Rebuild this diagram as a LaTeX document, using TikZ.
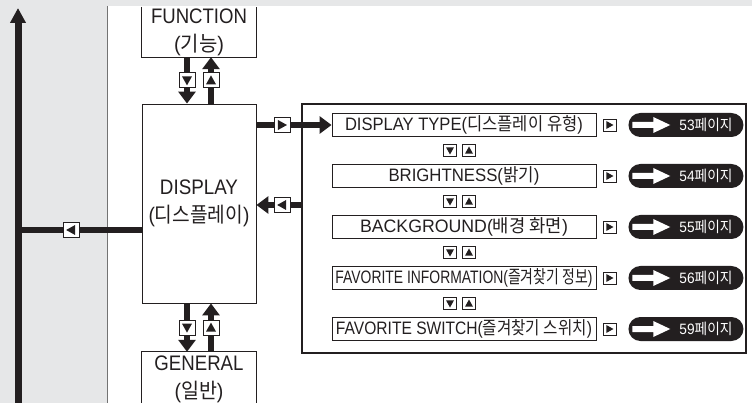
\documentclass[tikz,border=0pt]{standalone}
\usepackage{fontspec}
\usepackage{graphicx}
\setmainfont{Liberation Sans}
\newfontfamily\krfont{Noto Sans CJK KR}
\usetikzlibrary{arrows.meta,calc}
\definecolor{bggray}{HTML}{E6E7E8}
\definecolor{ink}{HTML}{231F20}
\newcommand\fitw[2]{\resizebox{#1}{\height}{#2}}
% triangles inside icon boxes: #1 node, #2 half width, #3 half depth
\newcommand\triR[3]{\fill[ink] ([shift={(-#3,#2)}]#1.center) -- ([shift={(-#3,-#2)}]#1.center) -- ([shift={(#2,0pt)}]#1.center) -- cycle;}
\newcommand\triL[3]{\fill[ink] ([shift={(#3,#2)}]#1.center) -- ([shift={(#3,-#2)}]#1.center) -- ([shift={(-#2,0pt)}]#1.center) -- cycle;}
\newcommand\triD[3]{\fill[ink] ([shift={(-#2,#3)}]#1.center) -- ([shift={(#2,#3)}]#1.center) -- ([shift={(0pt,-#2)}]#1.center) -- cycle;}
\newcommand\triU[3]{\fill[ink] ([shift={(-#2,-#3)}]#1.center) -- ([shift={(#2,-#3)}]#1.center) -- ([shift={(0pt,#2)}]#1.center) -- cycle;}
\begin{document}
\begin{tikzpicture}[x=1pt,y=-1pt,
  box/.style={draw=ink, line width=0.9pt, fill=white, inner sep=0pt, text=ink},
  conn/.style={draw=ink, line width=6.5pt},
  conna/.style={conn, -{Triangle[width=17pt,length=12pt]}},
  ico/.style={draw=ink, fill=white, line width=0.9pt, minimum width=16pt, minimum height=15pt, inner sep=0pt},
  icos/.style={draw=ink, fill=white, line width=0.8pt, minimum width=13pt, minimum height=12pt, inner sep=0pt},
  item/.style={box, minimum width=264pt, minimum height=23pt, font=\fontsize{18}{20}\selectfont},
  pill/.style={fill=ink, rounded corners=12pt, minimum height=24pt, text width=93pt, align=right, inner xsep=11pt, inner ysep=0pt, text=white, font=\fontsize{15}{17}\selectfont},
  mainlbl/.style={font=\fontsize{21}{28}\selectfont, align=center, text=ink, inner sep=0pt},
  frame/.style={draw=ink, line width=0.9pt}
]
\useasboundingbox (0,0) rectangle (752,403);
\fill[bggray] (0,0) rectangle (752,403);
\fill[white] (107,6) rectangle (752,403);
\draw[black!55, line width=0.8pt] (107,6) -- (107,403);

% main boxes
\node[mainlbl, minimum width=114pt, minimum height=50pt] (func) at (199,32) {\fitw{96pt}{FUNCTION}\\\fitw{50pt}{({\krfont 기능})}};
\draw[frame] (func.north west) -- (func.south west) -- (func.south east) -- (func.north east);
\node[box, mainlbl, minimum width=114pt, minimum height=199pt] (disp) at (199,203.5) {\fitw{78pt}{DISPLAY}\\\fitw{101pt}{({\krfont 디스플레이})}};
\node[mainlbl, minimum width=114pt, minimum height=54pt] (gen) at (199,379) {\fitw{89pt}{GENERAL}\\\fitw{49pt}{({\krfont 일반})}};
\draw[frame] (gen.south west) -- (gen.north west) -- (gen.north east) -- (gen.south east);

% right panel
\node[draw=ink, line width=1.1pt, minimum width=444pt, minimum height=249pt, inner sep=0pt] (big) at (524,228.5) {};
\node[item] (r1) at (464,125) {\fitw{238pt}{DISPLAY TYPE({\krfont 디스플레이 유형})}};
\node[item] (r2) at (464,176) {\fitw{151pt}{BRIGHTNESS({\krfont 밝기})}};
\node[item] (r3) at (464,227) {\fitw{208pt}{BACKGROUND({\krfont 배경 화면})}};
\node[item] (r4) at (464,278) {\fitw{257pt}{FAVORITE INFORMATION({\krfont 즐겨찾기 정보})}};
\node[item] (r5) at (464,329) {\fitw{256pt}{FAVORITE SWITCH({\krfont 즐겨찾기 스위치})}};

\foreach \r/\pg in {r1/53, r2/54, r3/55, r4/56, r5/59}{
  \node[icos] (g\r) at ([xshift=13pt]\r.east) {};
  \triR{g\r}{4pt}{3.2pt}
  \node[pill] (p\r) at ([xshift=89.5pt]\r.east) {\fitw{53pt}{\pg{\krfont 페이지}}};
  \fill[white] ([shift={(4pt,3pt)}]p\r.west) -- ([shift={(25pt,3pt)}]p\r.west) -- ([shift={(25pt,8pt)}]p\r.west) -- ([shift={(42pt,0pt)}]p\r.west) -- ([shift={(25pt,-8pt)}]p\r.west) -- ([shift={(25pt,-3pt)}]p\r.west) -- ([shift={(4pt,-3pt)}]p\r.west) -- cycle;
}
\foreach \a/\b in {r1/r2, r2/r3, r3/r4, r4/r5}{
  \coordinate (m\a) at ($(\a.south)!0.5!(\b.north)$);
  \node[icos] (d\a) at ([xshift=-14pt]m\a) {};
  \triD{d\a}{4pt}{3.2pt}
  \node[icos] (u\a) at ([xshift=5pt]m\a) {};
  \triU{u\a}{4pt}{3.2pt}
}

% connectors
\coordinate (xL) at (187,0);
\coordinate (xR) at (211,0);
\coordinate (yB) at (0,205);
\coordinate (yC) at (0,230);
\coordinate (lbot) at (18,410);
\coordinate (ltop) at (18,8);

\draw[conna] (func.south -| xL) -- (disp.north -| xL) node[midway, ico] (i1) {};
\triD{i1}{5pt}{4pt}
\draw[conna] (disp.north -| xR) -- (func.south -| xR) node[midway, ico] (i2) {};
\triU{i2}{5pt}{4pt}
\draw[conna] (disp.south -| xL) -- (gen.north -| xL) node[midway, ico] (i3) {};
\triD{i3}{5pt}{4pt}
\draw[conna] (gen.north -| xR) -- (disp.south -| xR) node[midway, ico] (i4) {};
\triU{i4}{5pt}{4pt}
\draw[conna] (disp.east |- r1.west) -- (r1.west) node[pos=0.34, ico] (i5) {};
\triR{i5}{5pt}{4pt}
\draw[conna] (big.west |- yB) -- (disp.east |- yB) node[pos=0.43, ico] (i6) {};
\triL{i6}{5pt}{4pt}
\draw[conn, line width=7pt, -{Triangle[width=15pt,length=15pt]}] (lbot) -- (ltop);
\draw[conn] (disp.west |- yC) -- (lbot |- yC) node[pos=0.57, ico] (i7) {};
\triL{i7}{5pt}{4pt}
\end{tikzpicture}
\end{document}
